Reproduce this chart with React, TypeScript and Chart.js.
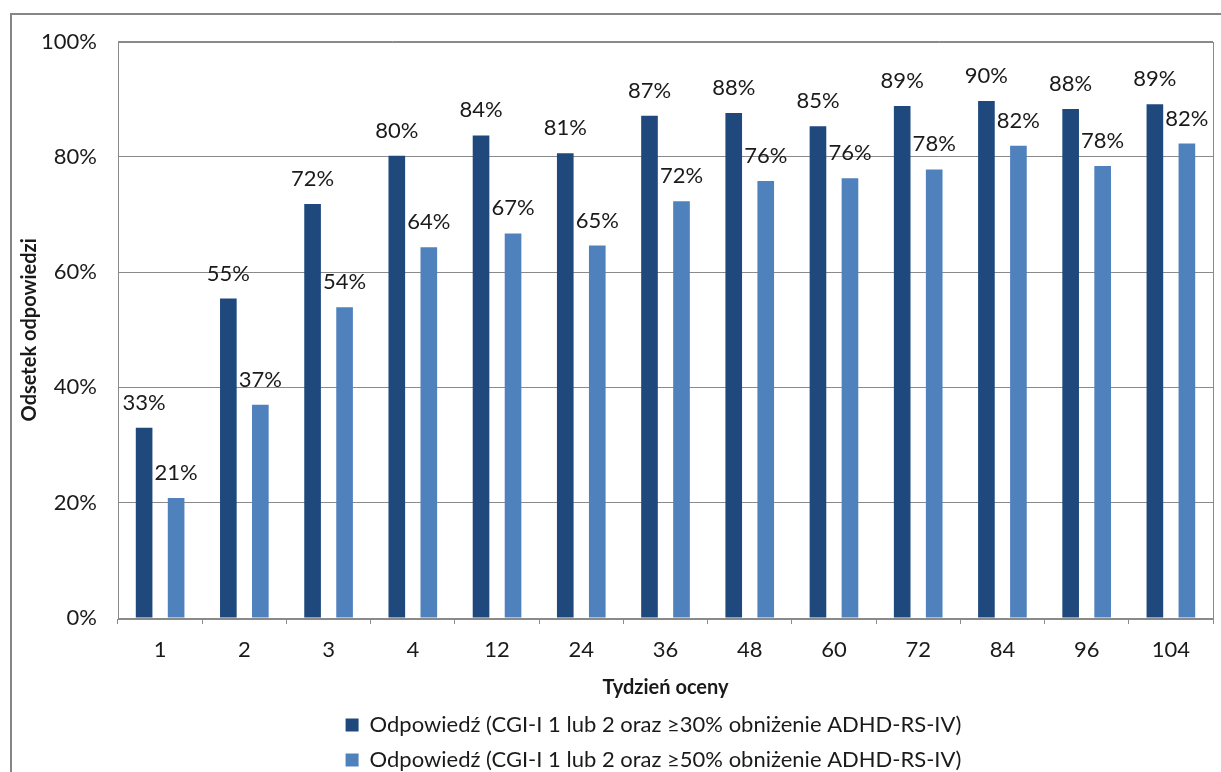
import React, { useEffect, useRef } from "react";
import { Chart, registerables } from "chart.js";

Chart.register(...registerables);

// Assessment weeks on the x axis
const weeks = ["1", "2", "3", "4", "12", "24", "36", "48", "60", "72", "84", "96", "104"];

// Share of responders (%) for each definition of response
const response30 = [33.0, 55.4, 71.8, 80.2, 83.7, 80.6, 87.1, 87.6, 85.3, 88.8, 89.7, 88.3, 89.1];
const response50 = [20.8, 37.0, 53.9, 64.3, 66.7, 64.6, 72.3, 75.8, 76.3, 77.8, 81.9, 78.4, 82.3];

const seriesLabels = [
  "Odpowiedź (CGI-I 1 lub 2 oraz ≥30% obniżenie ADHD-RS-IV)",
  "Odpowiedź (CGI-I 1 lub 2 oraz ≥50% obniżenie ADHD-RS-IV)",
];

const yTicks = [0, 20, 40, 60, 80, 100];

const FONT = "Lato, 'Open Sans', sans-serif";
const TEXT = "#1a1a1a";
const GRID = "#8a8a8a";
const FONT_SIZE = 22;

// Thin frame around the plotting area
const plotFrame = {
  id: "plotFrame",
  beforeDatasetsDraw(chart: any) {
    const { ctx, chartArea } = chart;
    ctx.save();
    ctx.strokeStyle = GRID;
    ctx.lineWidth = 1;
    ctx.strokeRect(
      Math.round(chartArea.left) + 0.5,
      Math.round(chartArea.top) + 0.5,
      Math.round(chartArea.right - chartArea.left),
      Math.round(chartArea.bottom - chartArea.top)
    );
    ctx.restore();
  },
};

// Percentage above every bar
const barValues = {
  id: "barValues",
  afterDatasetsDraw(chart: any) {
    const { ctx } = chart;
    ctx.save();
    ctx.font = `${FONT_SIZE}px ${FONT}`;
    ctx.fillStyle = TEXT;
    ctx.textAlign = "center";
    ctx.textBaseline = "alphabetic";
    chart.data.datasets.forEach((ds: any, di: number) => {
      const meta = chart.getDatasetMeta(di);
      meta.data.forEach((bar: any, i: number) => {
        const v = ds.data[i];
        ctx.fillText(`${Math.round(v)}%`, bar.x, bar.y - 18);
      });
    });
    ctx.restore();
  },
};

// Slide the legend block a little to the left of the plot centre
const legendNudge = {
  id: "legendNudge",
  afterLayout(chart: any) {
    const lg = chart.legend;
    if (lg) {
      lg.left -= 12;
      lg.right -= 12;
    }
  },
};

export default function App() {
  const canvasRef = useRef<HTMLCanvasElement | null>(null);

  useEffect(() => {
    if (!canvasRef.current) return;
    const chart = new Chart(canvasRef.current, {
      type: "bar",
      data: {
        labels: weeks,
        datasets: [
          {
            label: seriesLabels[0],
            data: response30,
            backgroundColor: "#1f497d",
            borderWidth: 0,
            categoryPercentage: 0.76,
            barPercentage: 0.52,
          },
          {
            label: seriesLabels[1],
            data: response50,
            backgroundColor: "#4f81bd",
            borderWidth: 0,
            categoryPercentage: 0.76,
            barPercentage: 0.52,
          },
        ],
      },
      options: {
        animation: false,
        responsive: true,
        maintainAspectRatio: false,
        layout: { padding: { top: 26.5, right: 8, left: 0, bottom: 0 } },
        plugins: {
          tooltip: { enabled: false },
          legend: {
            position: "bottom",
            fullSize: false,
            labels: {
              boxWidth: 13,
              boxHeight: 13,
              padding: 13,
              color: TEXT,
              font: { family: FONT, size: FONT_SIZE },
            },
          },
        },
        scales: {
          x: {
            offset: true,
            grid: {
              display: true,
              drawOnChartArea: false,
              drawTicks: true,
              tickLength: 6,
              color: GRID,
            },
            border: { display: true, color: GRID },
            ticks: {
              color: TEXT,
              padding: 13,
              font: { family: FONT, size: FONT_SIZE },
              maxRotation: 0,
            },
            title: {
              display: true,
              text: "Tydzień oceny",
              color: TEXT,
              font: { family: FONT, size: 20, weight: "bold" },
              padding: { top: 0, bottom: 1 },
            },
            afterFit(scale: any) {
              scale.height = 83;
            },
          },
          y: {
            min: 0,
            max: 100,
            afterBuildTicks(scale: any) {
              scale.ticks = yTicks.map((v) => ({ value: v }));
            },
            grid: { color: GRID, drawTicks: false },
            border: { display: true, color: GRID },
            ticks: {
              color: TEXT,
              padding: 21,
              font: { family: FONT, size: FONT_SIZE },
              callback: (v: any) => `${v}%`,
            },
            title: {
              display: true,
              text: "Odsetek odpowiedzi",
              color: TEXT,
              font: { family: FONT, size: 20, weight: "bold" },
              padding: { top: 6, bottom: 0 },
            },
            afterFit(scale: any) {
              scale.width = 106;
              scale.paddingTop = 0;
              scale.paddingBottom = 0;
            },
          },
        },
      },
      plugins: [plotFrame, barValues, legendNudge],
    });
    return () => chart.destroy();
  }, []);

  return (
    <div style={{ position: "fixed", inset: 0, overflow: "hidden", background: "#fff" }}>
      <div
        style={{
          position: "absolute",
          left: 10,
          top: 13,
          width: 1240,
          height: 800,
          border: "2px solid #868686",
          boxSizing: "border-box",
        }}
      />
      <div style={{ position: "absolute", left: 12, top: 15, width: 1209, height: 766 }}>
        <canvas ref={canvasRef} />
      </div>
    </div>
  );
}
